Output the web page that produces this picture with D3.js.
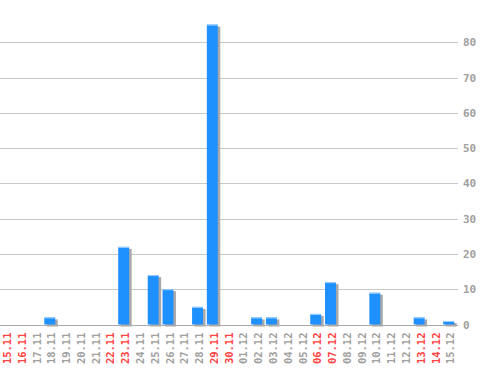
<!DOCTYPE html>
<html><head><meta charset="utf-8">
<script src="https://cdn.jsdelivr.net/npm/d3@7"></script>
<style>body{margin:0;background:#fff}svg{display:block}</style>
</head><body>
<svg id="chart" width="498" height="370"></svg>
<script>
// Daily counts, 15.11 – 15.12
const days = ["15.11","16.11","17.11","18.11","19.11","20.11","21.11","22.11","23.11","24.11","25.11","26.11","27.11","28.11","29.11","30.11","01.12","02.12","03.12","04.12","05.12","06.12","07.12","08.12","09.12","10.12","11.12","12.12","13.12","14.12","15.12"];
const counts = [0,0,0,2,0,0,0,0,22,0,14,10,0,5,85,0,0,2,2,0,0,3,12,0,0,9,0,0,2,0,1];
const weekend = ["15.11","16.11","22.11","23.11","29.11","30.11","06.12","07.12","13.12","14.12"];
const yTicks = [0,10,20,30,40,50,60,70,80];

const svg = d3.select("#chart");
const plot = {left:0, right:458, top:14, bottom:324.5};

const x = d3.scaleBand().domain(days).range([plot.left, plot.right]).paddingInner(0).paddingOuter(0);
const y = d3.scaleLinear().domain([0, 88]).range([plot.bottom, plot.top]);

const font = "'DejaVu Sans Mono', 'Liberation Mono', monospace";

// horizontal grid
svg.append("g").selectAll("line").data(yTicks.filter(d => d > 0)).join("line")
  .attr("x1", plot.left).attr("x2", plot.right)
  .attr("y1", d => Math.round(y(d)) + 0.5).attr("y2", d => Math.round(y(d)) + 0.5)
  .attr("stroke", "#c8c8c8").attr("stroke-width", 1);

// right value axis
const yAxis = svg.append("g").attr("transform", `translate(${plot.right},0)`)
  .call(d3.axisRight(y).tickValues(yTicks).tickSize(0).tickPadding(5));
yAxis.select(".domain").remove();
yAxis.selectAll("text").attr("fill", "#a0a0a0").attr("font-family", font)
  .attr("font-size", 11).attr("font-weight", "bold");

const bw = x.bandwidth() * 0.74;

// bar shadows
svg.append("g").selectAll("rect").data(days.map((d,i) => ({d, v: counts[i]})).filter(e => e.v > 0)).join("rect")
  .attr("x", e => x(e.d) + 2.5).attr("width", bw)
  .attr("y", e => y(e.v) + 2).attr("height", e => plot.bottom - y(e.v))
  .attr("fill", "#a8a8a8");

// baseline
svg.append("line").attr("x1", plot.left).attr("x2", plot.right)
  .attr("y1", Math.round(plot.bottom) + 0.5).attr("y2", Math.round(plot.bottom) + 0.5)
  .attr("stroke", "#aaa").attr("stroke-width", 1);

// bars
const bars = svg.append("g").selectAll("g").data(days.map((d,i) => ({d, v: counts[i]})).filter(e => e.v > 0)).join("g");
bars.append("rect")
  .attr("x", e => x(e.d)).attr("width", bw)
  .attr("y", e => y(e.v)).attr("height", e => plot.bottom - y(e.v))
  .attr("fill", "#1e90ff");
bars.append("rect")
  .attr("x", e => x(e.d)).attr("width", bw)
  .attr("y", e => y(e.v)).attr("height", 1)
  .attr("fill", "#9fd0ff");

// date labels, rotated
const xAxis = svg.append("g").attr("transform", `translate(0,${plot.bottom})`)
  .call(d3.axisBottom(x).tickSize(0).tickPadding(0));
xAxis.select(".domain").remove();
xAxis.selectAll("text")
  .attr("font-family", font).attr("font-size", 10.5).attr("font-weight", "bold")
  .attr("fill", d => weekend.includes(d) ? "#ff4444" : "#a0a0a0")
  .attr("transform", "rotate(-90)")
  .attr("text-anchor", "end").attr("dy", "0.35em").attr("x", -8).attr("y", 0);
</script>
</body></html>
